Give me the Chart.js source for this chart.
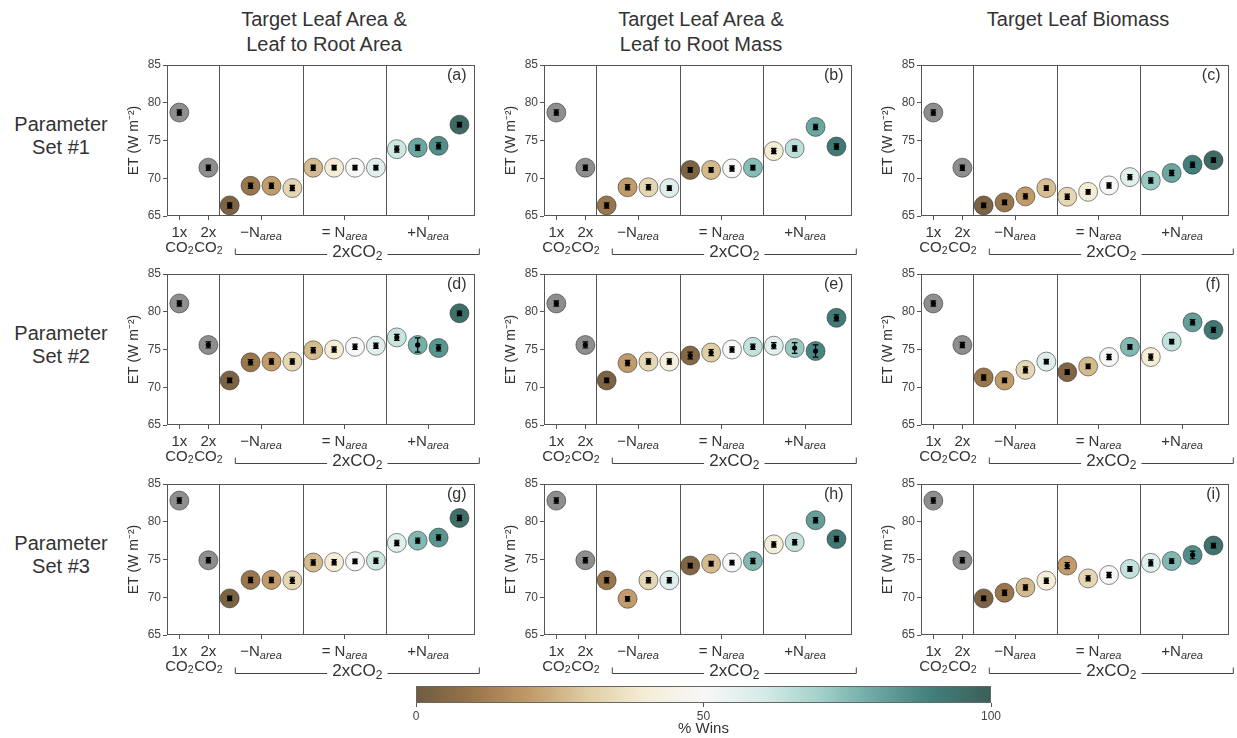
<!DOCTYPE html>
<html><head><meta charset="utf-8">
<script src="https://cdn.jsdelivr.net/npm/chart.js@4.4.1/dist/chart.umd.min.js"></script>
<style>
html,body{margin:0;padding:0;background:#fff;width:1237px;height:738px;overflow:hidden;position:relative;font-family:'Liberation Sans',Arial,sans-serif;color:#333}
canvas{position:absolute}
.t{position:absolute;text-align:center;font-size:20px;line-height:25px;color:#333;white-space:nowrap}
</style></head><body>
<script>
// ---------------- data ----------------
const columnTitles = [["Target Leaf Area &", "Leaf to Root Area"], ["Target Leaf Area &", "Leaf to Root Mass"], ["Target Leaf Biomass"]];
const rowTitles = [["Parameter", "Set #1"], ["Parameter", "Set #2"], ["Parameter", "Set #3"]];
const panelLetters = ["(a)", "(b)", "(c)", "(d)", "(e)", "(f)", "(g)", "(h)", "(i)"];
// x positions (axis units): 1x CO2, 2x CO2, then 3 groups of 4 under 2xCO2
const xPositions = [-1.91, -0.52, 0.5, 1.5, 2.5, 3.5, 4.5, 5.5, 6.5, 7.5, 8.5, 9.5, 10.5, 11.5];
const groupSeparators = [0, 4, 8];
const xTickPositions = [-1.91, -0.52, 2, 6, 10];
const groupTickLabels = ["\u2212N", "= N", "+N"];
const yTicks = [65, 70, 75, 80, 85];
const colorbarTicks = [0, 50, 100];

const et_a = [78.7, 71.4, 66.4, 69.0, 69.0, 68.7, 71.4, 71.4, 71.4, 71.4, 73.85, 74.05, 74.3, 77.1];
const wins_a = [3, 10, 20, 33, 26, 40, 50, 57, 62, 80, 86, 97];
const err_a = [0.35, 0.35, 0.35, 0.35, 0.35, 0.35, 0.35, 0.3, 0.3, 0.3, 0.4, 0.35, 0.4, 0.3];

const et_b = [78.7, 71.4, 66.4, 68.8, 68.8, 68.7, 71.1, 71.1, 71.3, 71.4, 73.6, 73.95, 76.8, 74.2];
const wins_b = [10, 20, 33, 58, 3, 26, 50, 75, 40, 65, 80, 92];
const err_b = [0.35, 0.35, 0.35, 0.35, 0.35, 0.3, 0.3, 0.3, 0.35, 0.3, 0.35, 0.35, 0.35, 0.35];

const et_c = [78.7, 71.4, 66.4, 66.8, 67.6, 68.7, 67.55, 68.2, 69.05, 70.15, 69.7, 70.7, 71.8, 72.4];
const wins_c = [3, 10, 20, 27, 33, 40, 50, 57, 72, 80, 90, 96];
const err_c = [0.35, 0.35, 0.3, 0.3, 0.35, 0.3, 0.35, 0.3, 0.35, 0.35, 0.35, 0.35, 0.35, 0.3];

const et_d = [81.1, 75.6, 70.9, 73.3, 73.4, 73.4, 74.9, 75.0, 75.35, 75.5, 76.6, 75.6, 75.2, 79.8];
const wins_d = [3, 10, 20, 33, 26, 40, 50, 57, 63, 78, 84, 95];
const err_d = [0.35, 0.4, 0.3, 0.35, 0.35, 0.35, 0.35, 0.35, 0.35, 0.35, 0.4, 0.95, 0.4, 0.3];

const et_e = [81.1, 75.6, 70.9, 73.2, 73.4, 73.4, 74.2, 74.6, 75.0, 75.35, 75.5, 75.2, 74.8, 79.2];
const wins_e = [3, 20, 33, 42, 5, 30, 50, 64, 57, 72, 88, 91];
const err_e = [0.35, 0.4, 0.3, 0.35, 0.35, 0.35, 0.45, 0.4, 0.35, 0.35, 0.4, 0.7, 0.8, 0.4];

const et_f = [81.1, 75.6, 71.3, 70.9, 72.3, 73.4, 72.0, 72.75, 74.0, 75.35, 74.0, 76.05, 78.6, 77.6];
const wins_f = [10, 20, 33, 58, 4, 26, 50, 76, 40, 64, 82, 92];
const err_f = [0.35, 0.35, 0.35, 0.3, 0.4, 0.3, 0.3, 0.3, 0.35, 0.3, 0.4, 0.3, 0.35, 0.35];

const et_g = [82.8, 74.9, 69.85, 72.3, 72.3, 72.25, 74.6, 74.65, 74.75, 74.85, 77.2, 77.5, 77.9, 80.5];
const wins_g = [3, 10, 20, 33, 26, 40, 50, 62, 57, 76, 84, 95];
const err_g = [0.35, 0.35, 0.3, 0.35, 0.35, 0.4, 0.35, 0.35, 0.3, 0.35, 0.35, 0.35, 0.35, 0.35];

const et_h = [82.8, 74.9, 72.25, 69.8, 72.25, 72.25, 74.2, 74.45, 74.6, 74.8, 77.0, 77.3, 80.2, 77.7];
const wins_h = [10, 20, 33, 58, 4, 26, 50, 76, 40, 64, 82, 92];
const err_h = [0.35, 0.35, 0.35, 0.3, 0.35, 0.35, 0.3, 0.3, 0.3, 0.35, 0.35, 0.35, 0.35, 0.35];

const et_i = [82.8, 74.9, 69.85, 70.6, 71.3, 72.2, 74.2, 72.5, 72.95, 73.75, 74.55, 74.8, 75.6, 76.85];
const wins_i = [3, 10, 26, 40, 20, 33, 50, 64, 57, 76, 86, 94];
const err_i = [0.35, 0.35, 0.3, 0.35, 0.35, 0.35, 0.4, 0.35, 0.35, 0.3, 0.4, 0.3, 0.5, 0.3];

const panelValues = [et_a, et_b, et_c, et_d, et_e, et_f, et_g, et_h, et_i];
const panelWins = [wins_a, wins_b, wins_c, wins_d, wins_e, wins_f, wins_g, wins_h, wins_i];
const panelErrors = [err_a, err_b, err_c, err_d, err_e, err_f, err_g, err_h, err_i];

// BrBG colormap anchors
const brbg = [[84,48,5],[140,81,10],[191,129,45],[223,194,125],[246,232,195],[245,245,245],[199,234,229],[128,205,193],[53,151,143],[1,102,94],[0,60,48]];
const ALPHA = 0.8, DESAT = 0.25;
function cmap(v) {
  const t = Math.max(0, Math.min(1, v / 100)) * 10;
  const i = Math.min(9, Math.floor(t)), f = t - i;
  const c = brbg[i].map((a, k) => a + (brbg[i + 1][k] - a) * f);
  const o = c.map(a => a * ALPHA + 255 * (1 - ALPHA));
  const lum = 0.299 * o[0] + 0.587 * o[1] + 0.114 * o[2];
  const d = o.map(a => Math.round(a + (lum - a) * DESAT));
  return `rgb(${d[0]},${d[1]},${d[2]})`;
}
const controlColor = 'rgb(142,142,142)';

// ---------------- layout ----------------
const panelLeft = [167, 544, 921];
const panelTop = [65, 274, 484];
const PW = 314, PH = 151, YAX = 60, TOPPAD = 12, XAX = 52, RPAD = 4;
const FONT = "'Liberation Sans', Arial, sans-serif";
Chart.defaults.font.family = FONT;

function addDiv(cls, html, style) {
  const d = document.createElement('div');
  d.className = cls; d.innerHTML = html; Object.assign(d.style, style);
  document.body.appendChild(d);
}
columnTitles.forEach((lines, c) => {
  addDiv('t', lines.join('<br>'), {left: (panelLeft[c] + PW / 2 - 160) + 'px', width: '320px', top: '7px'});
});
rowTitles.forEach((lines, r) => {
  addDiv('t', lines.join('<br>'), {left: '0px', width: '122px', top: (panelTop[r] + 48) + 'px', lineHeight: '23px'});
});

function drawParts(ctx, parts, cx, cy) {
  const widths = parts.map(p => { ctx.font = p.font; return ctx.measureText(p.text).width; });
  const total = widths.reduce((a, b) => a + b, 0);
  let x = cx - total / 2;
  ctx.textBaseline = 'middle'; ctx.textAlign = 'left';
  parts.forEach((p, i) => { ctx.font = p.font; ctx.fillText(p.text, x, cy + (p.dy || 0)); x += widths[i]; });
  return total;
}

function makePanel(idx) {
  const r = Math.floor(idx / 3), c = idx % 3;
  const cv = document.createElement('canvas');
  const W = YAX + PW + RPAD, H = TOPPAD + PH + XAX;
  cv.width = W; cv.height = H;
  cv.style.left = (panelLeft[c] - YAX) + 'px';
  cv.style.top = (panelTop[r] - TOPPAD) + 'px';
  document.body.appendChild(cv);

  const vals = panelValues[idx], wins = panelWins[idx], errs = panelErrors[idx];
  const pts = vals.map((v, i) => ({x: xPositions[i], y: v}));
  const colors = vals.map((v, i) => i < 2 ? controlColor : cmap(wins[i - 2]));

  const deco = {
    id: 'deco' + idx,
    beforeDatasetsDraw(chart) {
      const ctx = chart.ctx, xs = chart.scales.x, a = chart.chartArea;
      ctx.save();
      ctx.strokeStyle = '#555'; ctx.lineWidth = 1;
      groupSeparators.forEach(s => {
        const x = Math.round(xs.getPixelForValue(s)) + 0.5;
        ctx.beginPath(); ctx.moveTo(x, a.top); ctx.lineTo(x, a.bottom); ctx.stroke();
      });
      ctx.restore();
    },
    afterDatasetDraw(chart, args) {
      if (args.index !== 0) return;
      const ctx = chart.ctx, xs = chart.scales.x, ys = chart.scales.y;
      ctx.save(); ctx.strokeStyle = '#000'; ctx.lineWidth = 1.2;
      pts.forEach((d, i) => {
        const e = errs[i], x = xs.getPixelForValue(d.x);
        const y1 = ys.getPixelForValue(d.y - e), y2 = ys.getPixelForValue(d.y + e);
        ctx.beginPath();
        ctx.moveTo(x, y1); ctx.lineTo(x, y2);
        ctx.moveTo(x - 2.8, y1); ctx.lineTo(x + 2.8, y1);
        ctx.moveTo(x - 2.8, y2); ctx.lineTo(x + 2.8, y2);
        ctx.stroke();
      });
      ctx.restore();
    },
    afterDraw(chart) {
      const ctx = chart.ctx, xs = chart.scales.x, a = chart.chartArea;
      ctx.save();
      // box
      ctx.strokeStyle = '#555'; ctx.lineWidth = 1;
      ctx.strokeRect(Math.round(a.left) + 0.5, Math.round(a.top) + 0.5, Math.round(a.right - a.left) - 1, Math.round(a.bottom - a.top) - 1);
      // panel letter
      ctx.fillStyle = '#333'; ctx.font = '16px ' + FONT; ctx.textAlign = 'right'; ctx.textBaseline = 'middle';
      ctx.fillText(panelLetters[idx], a.right - 8, a.top + 11);
      // x labels
      const B = a.bottom;
      const f15 = '15px ' + FONT, f10 = '10.5px ' + FONT, fi = 'italic 11px ' + FONT;
      ['1x', '2x'].forEach((t, k) => {
        const x = xs.getPixelForValue(xTickPositions[k]);
        drawParts(ctx, [{text: t, font: f15}], x, B + 17);
        drawParts(ctx, [{text: 'CO', font: f15}, {text: '2', font: f10, dy: 3}], x, B + 32);
      });
      groupTickLabels.forEach((t, k) => {
        const x = xs.getPixelForValue(xTickPositions[k + 2]);
        drawParts(ctx, [{text: t, font: f15}, {text: 'area', font: fi, dy: 3.5}], x, B + 17);
      });
      // bracket 2xCO2
      const bx1 = a.left + 68.3, bx2 = a.left + 312.3, by = Math.round(B + 38) + 0.5;
      const mid = (bx1 + bx2) / 2;
      ctx.font = '17px ' + FONT;
      const tw = ctx.measureText('2xCO').width + 9;
      ctx.strokeStyle = '#444'; ctx.lineWidth = 1;
      ctx.beginPath();
      ctx.moveTo(bx1, by - 6); ctx.lineTo(bx1, by); ctx.lineTo(mid - tw / 2 - 4, by);
      ctx.moveTo(mid + tw / 2 + 4, by); ctx.lineTo(bx2, by); ctx.lineTo(bx2, by - 6);
      ctx.stroke();
      ctx.fillStyle = '#333';
      drawParts(ctx, [{text: '2xCO', font: '17px ' + FONT}, {text: '2', font: '12px ' + FONT, dy: 4}], mid, B + 36.5);
      ctx.restore();
    }
  };

  new Chart(cv, {
    type: 'scatter',
    data: {datasets: [
      {data: pts, backgroundColor: colors, borderColor: 'rgba(40,40,40,0.55)', borderWidth: 1, pointRadius: 9.5, pointHoverRadius: 9.5, order: 2},
      {data: pts, backgroundColor: '#000', borderWidth: 0, pointRadius: 2.6, pointHoverRadius: 2.6, order: 1}
    ]},
    options: {
      responsive: false, animation: false, events: [],
      layout: {padding: {left: 0, top: TOPPAD, right: RPAD, bottom: 0}},
      plugins: {legend: {display: false}, tooltip: {enabled: false}},
      scales: {
        x: {
          type: 'linear', min: -2.5, max: 12.22,
          afterBuildTicks: s => { s.ticks = xTickPositions.map(v => ({value: v})); },
          afterFit: s => { s.height = XAX; },
          ticks: {callback: () => '', autoSkip: false, maxRotation: 0, padding: 0},
          grid: {drawOnChartArea: false, tickLength: 4, color: '#555'},
          border: {display: false}
        },
        y: {
          min: 65, max: 85,
          afterBuildTicks: s => { s.ticks = yTicks.map(v => ({value: v})); },
          afterFit: s => { s.width = YAX; },
          ticks: {font: {size: 12}, color: '#444', padding: 2},
          grid: {drawOnChartArea: false, tickLength: 4, color: '#555'},
          border: {display: false},
          title: {display: true, text: 'ET (W m\u207B\u00B2)', font: {size: 14}, color: '#333', padding: {top: 18.6, bottom: 0}}
        }
      }
    },
    plugins: [deco]
  });
}
for (let i = 0; i < 9; i++) makePanel(i);

// ---------------- colorbar ----------------
(function () {
  const cv = document.createElement('canvas');
  const CL = 416, CW = 575, PADL = 30, CT = 686, CH = 17;
  cv.width = CW + 2 * PADL; cv.height = 738 - (CT - 4);
  cv.style.left = (CL - PADL) + 'px'; cv.style.top = (CT - 4) + 'px';
  document.body.appendChild(cv);
  const grad = {
    id: 'cbar',
    beforeDatasetsDraw(chart) {
      const ctx = chart.ctx, a = chart.chartArea;
      const g = ctx.createLinearGradient(a.left, 0, a.right, 0);
      for (let k = 0; k <= 50; k++) g.addColorStop(k / 50, cmap(k * 2));
      ctx.save(); ctx.fillStyle = g;
      ctx.fillRect(a.left, a.top, a.right - a.left, a.bottom - a.top);
      ctx.strokeStyle = '#666'; ctx.lineWidth = 1;
      ctx.strokeRect(Math.round(a.left) + 0.5, Math.round(a.top) + 0.5, Math.round(a.right - a.left) - 1, Math.round(a.bottom - a.top) - 1);
      ctx.restore();
    }
  };
  new Chart(cv, {
    type: 'scatter',
    data: {datasets: [{data: [], pointRadius: 0}]},
    options: {
      responsive: false, animation: false, events: [],
      layout: {padding: {left: PADL, right: PADL, top: 4, bottom: 0}},
      plugins: {legend: {display: false}, tooltip: {enabled: false}},
      scales: {
        x: {
          type: 'linear', min: 0, max: 100,
          afterBuildTicks: s => { s.ticks = colorbarTicks.map(v => ({value: v})); },
          afterFit: s => { s.height = cv.height - 4 - CH; },
          ticks: {font: {size: 12}, color: '#444', padding: 2, maxRotation: 0},
          grid: {drawOnChartArea: false, tickLength: 4, color: '#555'},
          border: {display: false},
          title: {display: true, text: '% Wins', font: {size: 15}, color: '#333', padding: {top: 0, bottom: 0}}
        },
        y: {display: false, min: 0, max: 1}
      }
    },
    plugins: [grad]
  });
})();
</script>
</body></html>
